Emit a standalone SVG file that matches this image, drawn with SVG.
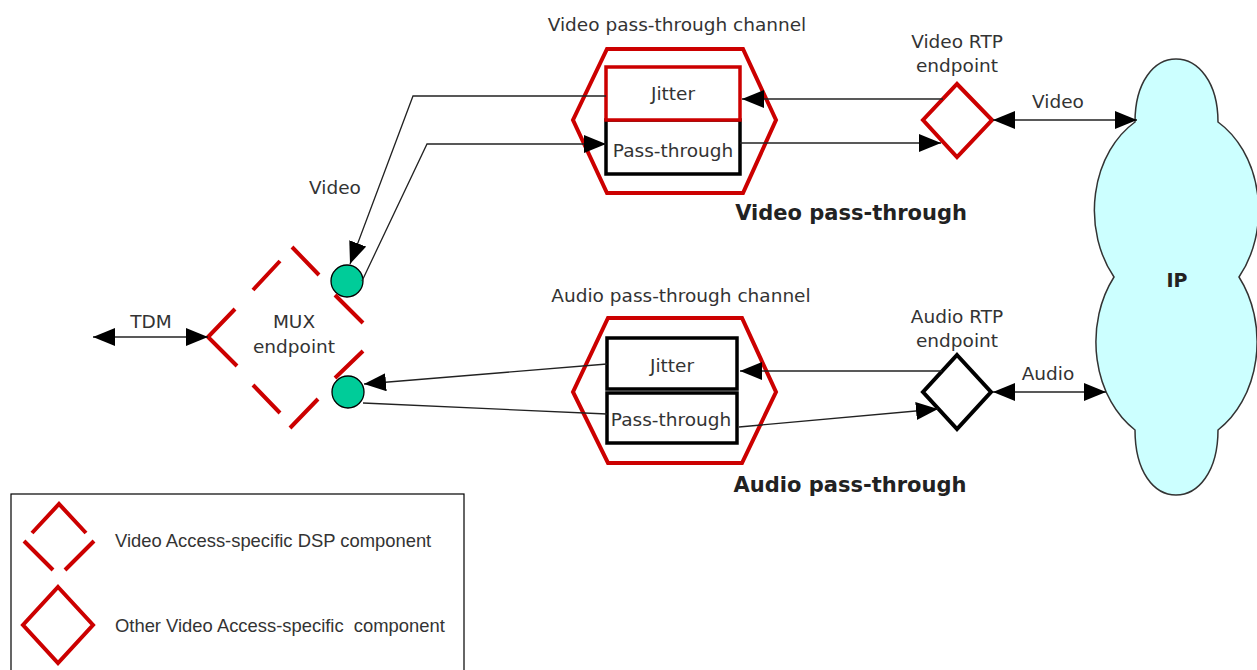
<svg xmlns="http://www.w3.org/2000/svg" width="1257" height="670" viewBox="0 0 1257 670">
<style>
  text { font-family: "DejaVu Sans", Verdana, sans-serif; font-size: 18.5px; fill: #333; }
  .c { text-anchor: middle; }
  .b { font-weight: bold; font-size: 21px; fill: #222; }
  .leg { font-family: "Liberation Sans", Arial, sans-serif; font-size: 18.4px; }
  .red { fill: none; stroke: #CC0000; stroke-width: 4; stroke-linejoin: miter; }
  .blk { fill: #fff; stroke: #000; stroke-width: 3.5; }
  .redbox { fill: #fff; stroke: #CC0000; stroke-width: 3.5; }
  .dsp { fill: none; stroke: #CC0000; stroke-width: 4; stroke-linecap: butt; }
  .port { fill: #00CC99; stroke: #000; stroke-width: 1.3; }
  .conn { fill: none; stroke: #222; stroke-width: 1.3; }
  .arr { marker-end: url(#ah); }
  .arr2 { marker-start: url(#ah); marker-end: url(#ah); }
</style>
<defs>
  <marker id="ah" markerUnits="userSpaceOnUse" markerWidth="22" markerHeight="18" refX="22" refY="9" orient="auto-start-reverse" viewBox="0 0 22 18">
    <path d="M0,0 L22,9 L0,18 Z" fill="#000"/>
  </marker>
</defs>
<rect width="1257" height="670" fill="#fff"/>

<g id="video-channel">
  <text class="c" x="677" y="31">Video pass-through channel</text>
  <polygon class="red" points="607,49 743,49 776,120 743,193 607,193 573,120"/>
  <g id="video-passthrough">
    <rect class="blk" x="606" y="120" width="134" height="54"/>
    <text class="c" x="673" y="157">Pass-through</text>
  </g>
  <g id="video-jitter">
    <rect class="redbox" x="606" y="67" width="134" height="53"/>
    <text class="c" x="673" y="100">Jitter</text>
  </g>
</g>
<text class="b c" x="851" y="220">Video pass-through</text>

<g id="video-rtp">
  <text class="c" x="957" y="48">Video RTP</text>
  <text class="c" x="957" y="72">endpoint</text>
  <polygon class="red" points="957,84 992,120 957,157 923,120"/>
</g>

<g id="audio-channel">
  <text class="c" x="681" y="302">Audio pass-through channel</text>
  <polygon class="red" points="608,318 742,318 776,392 742,463 608,463 573,392"/>
  <g id="audio-jitter">
    <rect class="blk" x="607" y="338" width="130" height="51"/>
    <text class="c" x="672" y="372">Jitter</text>
  </g>
  <g id="audio-passthrough">
    <rect class="blk" x="607" y="393" width="130" height="50"/>
    <text class="c" x="671" y="426">Pass-through</text>
  </g>
</g>
<text class="b c" x="850" y="492">Audio pass-through</text>

<g id="audio-rtp">
  <text class="c" x="957" y="323">Audio RTP</text>
  <text class="c" x="957" y="347">endpoint</text>
  <polygon points="957,355 991,392 957,429 923,392" fill="none" stroke="#000" stroke-width="4"/>
</g>

<g id="ip-cloud">
  <path d="M1135,122 C1135,82 1154,59 1176,59 C1198,59 1218,82 1218,122 A81,102 0 0 1 1239,277 A81,103 0 0 1 1218,430 C1218,472 1198,495 1176,495 C1154,495 1135,472 1135,430 A81,103 0 0 1 1114,277 A81,102 0 0 1 1135,122 Z" fill="#CCFFFF" stroke="#333" stroke-width="1.5"/>
  <text class="c" x="1177" y="287" style="font-weight:bold;font-size:19px;fill:#222">IP</text>
</g>

<g id="mux-endpoint">
  <circle id="video-port" class="port" cx="347" cy="281" r="16"/>
  <circle id="audio-port" class="port" cx="348" cy="392" r="16"/>
  <path class="dsp" d="M235,309 L208,337 L237,366 M253,290 L280,261 M292,247 L319,275 M335,295 L363,323 M363,351 L335,378 M318,399 L290,428 M280,413 L253,385"/>
  <text class="c" x="294" y="328">MUX</text>
  <text class="c" x="294" y="353">endpoint</text>
</g>

<g id="tdm">
  <text class="c" x="151" y="328">TDM</text>
</g>

<g id="connectors">
  <path class="conn arr" d="M943,99 L742,99"/>
  <path class="conn arr" d="M606,96 L413,96 L350,264"/>
  <path class="conn arr" d="M362,281 L427,144 L606,144"/>
  <path class="conn arr" d="M740,143 L941,143"/>
  <path class="conn arr2" d="M993,120 L1137,120"/>
  <path class="conn arr" d="M942,371 L740,371"/>
  <path class="conn arr" d="M607,364 L364,384"/>
  <path class="conn" d="M363,403 L607,414"/>
  <path class="conn arr" d="M739,427 L938,409"/>
  <path class="conn arr2" d="M993,392 L1106,392"/>
  <path class="conn arr2" d="M93,337 L208,337"/>
  <text class="c" x="335" y="194">Video</text>
  <text class="c" x="1058" y="108">Video</text>
  <text class="c" x="1048" y="380">Audio</text>
</g>

<g id="legend">
  <rect x="11" y="494" width="453" height="200" fill="none" stroke="#000" stroke-width="1.2"/>
  <g id="legend-dsp">
    <path class="dsp" d="M32,533 L59,504 L86,533 M24,541 L53,570 M94,541 L65,570"/>
    <text class="leg" x="115" y="547">Video Access-specific DSP component</text>
  </g>
  <g id="legend-other">
    <polygon class="red" points="58,587 93,625 58,663 23,625"/>
    <text class="leg" x="115" y="632" xml:space="preserve">Other Video Access-specific  component</text>
  </g>
</g>
</svg>
